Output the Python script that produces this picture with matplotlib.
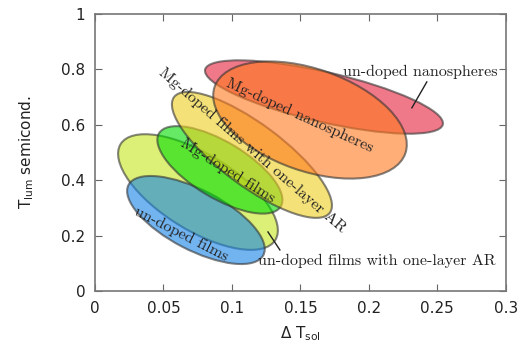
import matplotlib
matplotlib.use("Agg")
import matplotlib.pyplot as plt
import matplotlib.transforms as mtransforms
from matplotlib.patches import Ellipse

plt.rcParams["mathtext.default"] = "regular"

# ellipse data: centre (dT_sol, T_lum), semi-axes in pixels, screen angle
names = ["un-doped films with one-layer AR", "un-doped films", "Mg-doped films with one-layer AR",
         "Mg-doped films", "un-doped nanospheres", "Mg-doped nanospheres"]
cx = [0.0752, 0.0737, 0.1146, 0.0912, 0.1672, 0.157]
cy = [0.357, 0.256, 0.491, 0.437, 0.700, 0.617]
semi_a = [91, 76, 97, 71, 122, 101]
semi_b = [38, 30, 31, 28, 25, 51]
angles = [-31.8, -27.5, -36.6, -31.0, -13.0, -19.3]
colors = ["#c5e61e", "#1482e6", "#eecd1e", "#00dc00", "#e6203a", "#ff781e"]

# labels inside ellipses: position and rotation
lab_x = [0.0628, 0.1146, 0.0971, 0.1496]
lab_y = [0.206, 0.509, 0.433, 0.632]
lab_rot = [-27, -41, -32, -24.4]
lab_txt = ["un-doped films", "Mg-doped films with one-layer AR", "Mg-doped films",
           "Mg-doped nanospheres"]

# outside labels with leader lines
out_txt = ["un-doped nanospheres", "un-doped films with one-layer AR"]
out_x = [0.2372, 0.2058]
out_y = [0.7906, 0.108]
lead_x = [[0.2423, 0.2314], [0.1263, 0.135]]
lead_y = [[0.7545, 0.661], [0.213, 0.148]]

xticks = [0, 0.05, 0.1, 0.15, 0.2, 0.25, 0.3]
yticks = [0, 0.2, 0.4, 0.6, 0.8, 1.0]

fig = plt.figure(figsize=(5.22, 3.48), dpi=100)
ax = fig.add_axes([0.182, 0.164, 0.787, 0.796])
ax.set_xlim(0, 0.3)
ax.set_ylim(0, 1)

# drawing order: orange on top of yellow and pink
order = [0, 1, 3, 2, 4, 5]
for i in order:
    trans = fig.dpi_scale_trans + mtransforms.ScaledTranslation(cx[i], cy[i], ax.transData)
    e = Ellipse((0, 0), 2 * semi_a[i] / 100, 2 * semi_b[i] / 100, angle=angles[i],
                transform=trans, facecolor=colors[i], edgecolor="#333333",
                alpha=0.6, linewidth=1.5)
    ax.add_patch(e)

tf = dict(family="cmr10", fontsize=11.5, color="#222222", ha="center", va="center")
for x, y, r, t in zip(lab_x, lab_y, lab_rot, lab_txt):
    ax.text(x, y, t, rotation=r, **tf)
for x, y, t, lx, ly in zip(out_x, out_y, out_txt, lead_x, lead_y):
    ax.text(x, y, t, **tf)
    ax.plot(lx, ly, color="#222222", lw=1)

ax.set_xticks(xticks)
ax.set_yticks(yticks)
ax.set_xticklabels(["%g" % t for t in xticks])
ax.set_yticklabels(["%g" % t for t in yticks])
ax.tick_params(direction="in", top=True, right=True, labelsize=11, pad=7,
               colors="#666666", labelcolor="#222222", length=5)
for s in ax.spines.values():
    s.set_color("#777777")
    s.set_linewidth(1.2)

ax.set_xlabel(r"Δ $\mathregular{T_{sol}}$", fontsize=11, color="#222222", labelpad=6)
ax.set_ylabel(r"$\mathregular{T_{lum}}$ semicond.", fontsize=11, color="#222222", labelpad=18)

fig.savefig("out.png", dpi=100)
